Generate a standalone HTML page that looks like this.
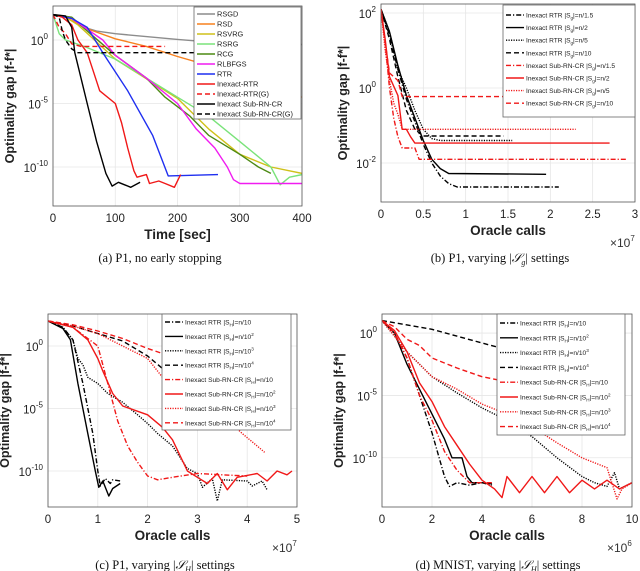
<!DOCTYPE html>
<html><head><meta charset="utf-8">
<style>
html,body{margin:0;padding:0;background:#fff;}
svg{display:block;font-family:"Liberation Sans",sans-serif;}
.cap{font-family:"Liberation Serif",serif;font-size:12.5px;fill:#111;}
</style></head>
<body>
<svg id="fig" width="640" height="571" viewBox="0 0 640 571" xmlns="http://www.w3.org/2000/svg">
<g id="layer"></g>
<text class="cap" x="160" y="262" text-anchor="middle">(a)  P1, no early stopping</text>
<text class="cap" x="500" y="262" text-anchor="middle">(b)  P1, varying |<tspan font-style="italic">𝒮</tspan><tspan font-size="8" dy="3" font-style="italic">g</tspan><tspan dy="-3">| settings</tspan></text>
<text class="cap" x="165" y="569" text-anchor="middle">(c)  P1, varying |<tspan font-style="italic">𝒮</tspan><tspan font-size="8" dy="3" font-style="italic">H</tspan><tspan dy="-3">| settings</tspan></text>
<text class="cap" x="498" y="569" text-anchor="middle">(d)  MNIST, varying |<tspan font-style="italic">𝒮</tspan><tspan font-size="8" dy="3" font-style="italic">H</tspan><tspan dy="-3">| settings</tspan></text>
</svg>
<script>
// ---- Panel (a) data: [time sec, log10 gap]
const aRSGD=[[0,2],[20,1.8],[50,1],[70,0.7],[100,0.5],[200,0.05],[250,-0.15],[300,-0.3],[400,-0.35]];
const aRSD=[[0,2],[20,1.8],[60,0.8],[100,0.1],[150,-0.5],[200,-1.3],[250,-2],[300,-3],[350,-3.7],[400,-4.5]];
const aRSVRG=[[0,2],[20,1.8],[40,1.2],[100,-1.5],[200,-4.6],[250,-7],[300,-9],[350,-10],[400,-10.5]];
const aRSRG=[[0,2],[10,0.5],[20,0],[50,-0.5],[100,-1.5],[150,-3],[200,-4.5],[250,-6],[300,-8],[350,-10],[365,-11.4],[380,-10.8],[400,-10.6]];
const aRCG=[[0,2],[30,1.8],[60,0.5],[100,-1.2],[150,-3],[180,-4.5],[220,-6],[250,-7.5],[300,-9],[330,-10],[350,-10.5]];
const aRLBFGS=[[0,2],[30,1.7],[80,0],[100,-1.2],[150,-3],[200,-5],[230,-7],[260,-8.5],[280,-10],[290,-11],[300,-11.3],[400,-11.3]];
const aRTR=[[0,2],[30,1.7],[55,1],[80,-1],[120,-4],[160,-7.5],[185,-10.7],[265,-10.6]];
const aInRTR=[[0,2],[15,1.8],[30,1.2],[40,0],[55,-1],[65,-2.5],[75,-4],[100,-5],[110,-6.5],[120,-8.5],[130,-10.3],[135,-10.8],[150,-10.6],[155,-11.3],[170,-11.1],[180,-11.3],[195,-11.6],[205,-10.6]];
const aInRTRG=[[0,2],[10,1],[20,0.5],[30,-0.3],[45,-0.5],[180,-0.5]];
const aSub=[[0,2],[20,1.9],[30,1],[35,-1],[45,-3],[55,-5],[70,-8],[85,-10.5],[95,-11.5],[105,-11.2],[115,-11.4],[125,-11.6],[140,-11.2]];
const aSubG=[[0,2],[10,1.8],[15,0.7],[20,0],[30,-0.7],[40,-1],[230,-1]];
const aXTicks=[0,100,200,300,400];
const aYTicks=[0,-5,-10];
// ---- Panel (b) data: [oracle calls x1e7, log10 gap]
const bRTR15=[[0,2.1],[0.1,1.4],[0.2,0.5],[0.3,-0.3],[0.4,-0.9],[0.5,-1.5],[0.6,-2],[0.7,-2.35],[0.8,-2.55],[0.9,-2.64],[2.1,-2.64]];
const bRTR2=[[0,2.1],[0.1,1.5],[0.2,0.6],[0.3,-0.2],[0.4,-0.8],[0.5,-1.4],[0.6,-1.9],[0.7,-2.15],[0.8,-2.28],[1.95,-2.3]];
const bRTR5=[[0,2.1],[0.1,1.5],[0.2,0.5],[0.3,0],[0.4,-0.6],[0.5,-1.1],[0.6,-1.35],[0.7,-1.4],[1.55,-1.4]];
const bRTR10=[[0,2.1],[0.1,1.3],[0.2,0.3],[0.3,-0.6],[0.4,-1.1],[0.5,-1.28],[1.45,-1.28]];
const bSub15=[[0,2.1],[0.05,1.2],[0.1,0],[0.15,-0.8],[0.2,-1.3],[0.25,-1.6],[0.4,-1.6],[0.45,-1.9],[2.9,-1.9]];
const bSub2=[[0,2.1],[0.05,1.3],[0.1,0.3],[0.2,-0.2],[0.25,-1.1],[0.3,-1.1],[0.35,-1.3],[0.4,-1.47],[2.7,-1.47]];
const bSub5=[[0,2.1],[0.05,1],[0.1,0.2],[0.15,-0.4],[0.2,-0.7],[0.25,-1.1],[2.3,-1.1]];
const bSub10=[[0,2.1],[0.05,1.2],[0.1,0.4],[0.2,0.2],[0.25,-0.23],[2.8,-0.23]];
const bXTicks=[0,0.5,1,1.5,2,2.5,3];
const bXLabels=["0","0.5","1","1.5","2","2.5","3"];
const bYTicks=[2,0,-2];
// ---- Panel (c) data: [oracle calls x1e7, log10 gap]
const cRTR1=[[0,2],[0.3,1.5],[0.5,0.5],[0.7,-3],[0.9,-7],[1.0,-10],[1.05,-11.2],[1.15,-10.6],[1.25,-11],[1.3,-10.7],[1.45,-10.8]];
const cRTR2=[[0,2],[0.3,1.4],[0.45,0.5],[0.6,-3],[0.8,-7],[0.95,-10],[1.02,-11.3],[1.1,-10.8],[1.22,-12],[1.3,-11.4],[1.45,-11]];
const cRTR3=[[0,2],[0.3,1.5],[0.5,0.5],[0.6,-1],[0.7,-1.5],[0.8,-2.5],[1.0,-3],[1.2,-3.8],[1.5,-4.5],[1.8,-5.5],[2.0,-6.2],[2.2,-7],[2.5,-8],[2.8,-9.8],[3,-10.2],[3.1,-11.3],[3.3,-10.6],[3.4,-12.4],[3.5,-10.7],[4,-10.8],[4.1,-11.2],[4.3,-10.8],[4.4,-11.5]];
const cRTR4=[[0,2],[0.5,1.6],[1,1],[1.5,0.4],[2,-0.8],[2.3,-1.8]];
const cSub1=[[0,2],[0.5,1.5],[1,0],[1.2,-3],[1.4,-6],[1.6,-8],[1.8,-9.3],[2,-10.4],[2.2,-10.7],[2.5,-10.5],[3,-10.2],[3.5,-10.3],[4,-10.4]];
const cSub2=[[0,2],[0.5,1.5],[0.8,0.5],[1.0,-1],[1.1,-2],[1.3,-3.8],[1.5,-4.8],[2,-5.5],[2.3,-6.5],[2.5,-7.5],[2.8,-10],[3.0,-10.5],[3.2,-11],[3.4,-10.2],[3.6,-11.5],[3.8,-10.5],[4.2,-10.2],[4.4,-10.8],[4.6,-10],[4.8,-10.3],[4.9,-10]];
const cSub3=[[0,2],[0.5,1.6],[1,1],[1.5,0],[2,-1],[2.3,-2.5],[2.6,-3.5],[3,-4.5],[3.5,-5.5],[3.9,-7],[4.2,-8],[4.35,-8.5]];
const cSub4=[[0,2],[0.5,1.7],[1,1.2],[1.5,0.6],[2,-0.2],[2.3,-0.6]];
const cXTicks=[0,1,2,3,4,5];
const cYTicks=[0,-5,-10];
// ---- Panel (d) data: [oracle calls x1e6, log10 gap]
const dRTR1=[[0,1],[0.5,0],[1,-2],[1.5,-5],[2,-8],[2.5,-11.5],[2.7,-12.3],[3,-12],[3.5,-12.2],[4,-12],[4.4,-12.2]];
const dRTR2=[[0,1],[0.5,0],[1,-2.5],[1.5,-4.5],[2,-6.5],[2.5,-8.5],[2.8,-10],[3.2,-10],[3.4,-11.5],[3.6,-12],[4,-12],[4.4,-12.1]];
const dRTR3=[[0,1],[1,-1.5],[2,-3.5],[3,-4.8],[4,-6],[5,-7],[6,-8.3],[7,-10],[8,-11.5],[8.5,-12],[9,-12.3],[9.3,-11.2],[9.5,-12.5],[10,-12]];
const dRTR4=[[0,1],[2,0.3],[4,-0.8],[5.5,-1.6],[6.5,-2.5]];
const dSub1=[[0,1],[0.5,0],[1,-2],[1.5,-5],[2,-7],[2.5,-9.5],[3,-11],[3.5,-12],[4,-12],[4.4,-12]];
const dSub2=[[0,1],[0.5,0.2],[1,-1.5],[1.5,-4],[2,-5.5],[2.5,-7.5],[3,-9],[3.5,-10.5],[4,-11.8],[4.5,-12.5],[4.8,-13.2],[5,-11.5],[5.5,-12.8],[6,-11.5],[6.5,-12.8],[7,-11.5],[7.5,-12.8],[8,-11.8],[8.5,-12.5],[9,-11.8],[9.5,-12.5],[10,-12]];
const dSub3=[[0,1],[1,-1.5],[2,-3.5],[3,-4.5],[4,-5.7],[5,-6.5],[6,-7.5],[7,-8.8],[8,-10],[9,-10.8],[9.4,-13.3],[9.6,-12.5],[10,-12]];
const dSub4=[[0,1],[0.5,0.5],[1,-0.5],[1.5,-1],[2,-2],[3,-2.8],[4,-3.5],[5,-3.9]];
const dXTicks=[0,2,4,6,8,10];
const dYTicks=[0,-5,-10];

const NS="http://www.w3.org/2000/svg";
const layer=document.getElementById('layer');
function mk(tag,attrs,parent){const e=document.createElementNS(NS,tag);for(const k in attrs)e.setAttribute(k,attrs[k]);(parent||layer).appendChild(e);return e;}
const DASH={solid:"",dash:"5,3",dot:"1.2,1.3",dashdot:"5,2,1.2,2"};

function panel(p){
  const g=mk('g',{});
  
  
  const sx=v=>p.L+(v-p.xmin)/(p.xmax-p.xmin)*(p.R-p.L);
  const sy=l=>p.T+(p.lt-l)/(p.lt-p.lb)*(p.B-p.T);
  const clip=mk('clipPath',{id:'clip'+p.id},g);
  mk('rect',{x:p.L,y:p.T,width:p.R-p.L,height:p.B-p.T},clip);
  p.xt.forEach((v,i)=>{
    const gl=mk('line',{x1:sx(v),x2:sx(v),y1:p.T,y2:p.B,stroke:'#e6e6e6','stroke-width':0.8},g);
    
    
    const t=mk('text',{x:sx(v),y:p.B+16,'font-size':11.5,'text-anchor':'middle',fill:'#222'},g);
    t.textContent=p.xl?p.xl[i]:String(v);
    
    
  });
  p.yt.forEach(v=>{
    const gl=mk('line',{x1:p.L,x2:p.R,y1:sy(v),y2:sy(v),stroke:'#e6e6e6','stroke-width':0.8},g);
    
    
    const t=mk('text',{x:p.L-5,y:sy(v)+5,'font-size':11.5,'text-anchor':'end',fill:'#222'},g);
    
    
    const sp=mk('tspan',{},t);sp.textContent='10';
    const sp2=mk('tspan',{dy:-6,'font-size':8},t);sp2.textContent=String(v);
  });
  const sg=mk('g',{'clip-path':'url(#clip'+p.id+')'},g);
  p.series.forEach(s=>{
    const d=s.data.map((q,i)=>(i?'L':'M')+sx(q[0]).toFixed(1)+','+sy(q[1]).toFixed(1)).join('');
    const path=mk('path',{d:d,fill:'none',stroke:s.c,'stroke-width':s.w||1.4,'stroke-dasharray':DASH[s.st||'solid'],'stroke-linejoin':'round'},sg);
    
    
  });
  const box=mk('rect',{x:p.L,y:p.T,width:p.R-p.L,height:p.B-p.T,fill:'none',stroke:'#555','stroke-width':0.8},g);
  
  
  const xt=mk('text',{x:(p.L+p.R)/2,y:p.B+33,'font-size':13.5,'font-weight':'bold','text-anchor':'middle',fill:'#222'},g);
  xt.textContent=p.xtitle;
  
  
  const ytx=p.yx, yty=(p.T+p.B)/2;
  const yt=mk('text',{x:ytx,y:yty,'font-size':12.5,'font-weight':'bold','text-anchor':'middle',fill:'#222',transform:'rotate(-90 '+ytx+' '+yty+')'},g);
  yt.textContent='Optimality gap |f-f*|';
  
  
  if(p.mult){
    const m=mk('text',{x:p.R-25,y:p.B+45,'font-size':12,fill:'#333'},g);
    
    
    const a=mk('tspan',{},m);a.textContent='×10';
    const b=mk('tspan',{dy:-6,'font-size':8},m);b.textContent=p.mult;
  }
  const lg=p.leg;
  const lgg=mk('g',{},g);
  
  
  mk('rect',{x:lg.x,y:lg.y,width:lg.w,height:lg.h,fill:'#fff',stroke:'#666','stroke-width':0.8},lgg);
  p.series.forEach((s,i)=>{
    const yy=lg.y+lg.y0+i*lg.dy;
    const ln=mk('line',{x1:lg.x+3,x2:lg.x+3+lg.ll,y1:yy,y2:yy,stroke:s.c,'stroke-width':s.w||1.4,'stroke-dasharray':DASH[s.st||'solid']},lgg);
    
    
    const t=mk('text',{x:lg.x+5+lg.ll,y:yy+2.5,'font-size':lg.fs,fill:'#222'},lgg);
    
    
    const parts=s.label;
    if(typeof parts==='string'){t.textContent=parts;}
    else{
      const a=mk('tspan',{},t);a.textContent=parts[0];
      const b=mk('tspan',{dy:2,'font-size':lg.fs*0.7},t);b.textContent=parts[1];
      const c=mk('tspan',{dy:-2},t);c.textContent=parts[2];
      if(parts[3]){const e=mk('tspan',{dy:-3,'font-size':lg.fs*0.7},t);e.textContent=parts[3];}
    }
  });
}

panel({id:'a',L:53,R:302,T:6,B:206,xmin:0,xmax:400,lt:2.68,lb:-13.07,xt:aXTicks,yt:aYTicks,xtitle:'Time [sec]',yx:14,
 leg:{x:194,y:7,w:107,h:112,y0:7,dy:10,ll:18,fs:7.4},
 series:[
  {key:'rsgd',data:aRSGD,c:'#8c8c8c',label:'RSGD'},
  {key:'rsd',data:aRSD,c:'#f7801e',label:'RSD'},
  {key:'rsvrg',data:aRSVRG,c:'#cfc11a',label:'RSVRG'},
  {key:'rsrg',data:aRSRG,c:'#7ae37a',label:'RSRG'},
  {key:'rcg',data:aRCG,c:'#4d8a14',label:'RCG'},
  {key:'rlbfgs',data:aRLBFGS,c:'#f01cf0',label:'RLBFGS'},
  {key:'rtr',data:aRTR,c:'#1f2ff0',label:'RTR'},
  {key:'inexact-rtr',data:aInRTR,c:'#f01818',label:'Inexact-RTR'},
  {key:'inexact-rtr-g',data:aInRTRG,c:'#f01818',st:'dash',label:'Inexact-RTR(G)'},
  {key:'sub-rn-cr',data:aSub,c:'#000',label:'Inexact Sub-RN-CR'},
  {key:'sub-rn-cr-g',data:aSubG,c:'#000',st:'dash',label:'Inexact Sub-RN-CR(G)'}
 ]});

panel({id:'b',L:381,R:635,T:4,B:202,xmin:0,xmax:3,lt:2.24,lb:-3.04,xt:bXTicks,xl:bXLabels,yt:bYTicks,xtitle:'Oracle calls',yx:347,mult:'7',
 leg:{x:503,y:5,w:132,h:112,y0:10,dy:12.6,ll:18,fs:6.6},
 series:[
  {key:'rtr-g-1.5',data:bRTR15,c:'#000',st:'dashdot',label:['Inexact RTR |S','g','|=n/1.5']},
  {key:'rtr-g-2',data:bRTR2,c:'#000',label:['Inexact RTR |S','g','|=n/2']},
  {key:'rtr-g-5',data:bRTR5,c:'#000',st:'dot',label:['Inexact RTR |S','g','|=n/5']},
  {key:'rtr-g-10',data:bRTR10,c:'#000',st:'dash',label:['Inexact RTR |S','g','|=n/10']},
  {key:'sub-g-1.5',data:bSub15,c:'#f01818',st:'dashdot',label:['Inexact Sub-RN-CR  |S','g','|=n/1.5']},
  {key:'sub-g-2',data:bSub2,c:'#f01818',label:['Inexact Sub-RN-CR  |S','g','|=n/2']},
  {key:'sub-g-5',data:bSub5,c:'#f01818',st:'dot',label:['Inexact Sub-RN-CR  |S','g','|=n/5']},
  {key:'sub-g-10',data:bSub10,c:'#f01818',st:'dash',label:['Inexact Sub-RN-CR  |S','g','|=n/10']}
 ]});

panel({id:'c',L:48,R:297,T:314,B:507,xmin:0,xmax:5,lt:2.56,lb:-12.88,xt:cXTicks,yt:cYTicks,xtitle:'Oracle calls',yx:9,mult:'7',
 leg:{x:162,y:314,w:129,h:116,y0:8,dy:14.4,ll:18,fs:6.6},
 series:[
  {key:'rtr-h-10',data:cRTR1,c:'#000',st:'dashdot',label:['Inexact RTR |S','H','|=n/10']},
  {key:'rtr-h-100',data:cRTR2,c:'#000',label:['Inexact RTR |S','H','|=n/10','2']},
  {key:'rtr-h-1000',data:cRTR3,c:'#000',st:'dot',label:['Inexact RTR |S','H','|=n/10','3']},
  {key:'rtr-h-10000',data:cRTR4,c:'#000',st:'dash',label:['Inexact RTR |S','H','|=n/10','4']},
  {key:'sub-h-10',data:cSub1,c:'#f01818',st:'dashdot',label:['Inexact Sub-RN-CR |S','H','|=n/10']},
  {key:'sub-h-100',data:cSub2,c:'#f01818',label:['Inexact Sub-RN-CR |S','H','|=n/10','2']},
  {key:'sub-h-1000',data:cSub3,c:'#f01818',st:'dot',label:['Inexact Sub-RN-CR |S','H','|=n/10','3']},
  {key:'sub-h-10000',data:cSub4,c:'#f01818',st:'dash',label:['Inexact Sub-RN-CR |S','H','|=n/10','4']}
 ]});

panel({id:'d',L:382,R:632,T:314,B:507,xmin:0,xmax:10,lt:1.53,lb:-13.95,xt:dXTicks,yt:dYTicks,xtitle:'Oracle calls',yx:343,mult:'6',
 leg:{x:497,y:314,w:128,h:121,y0:9,dy:14.8,ll:18,fs:6.6},
 series:[
  {key:'rtr-h-10',data:dRTR1,c:'#000',st:'dashdot',label:['Inexact RTR |S','H','|=n/10']},
  {key:'rtr-h-100',data:dRTR2,c:'#000',label:['Inexact RTR |S','H','|=n/10','2']},
  {key:'rtr-h-1000',data:dRTR3,c:'#000',st:'dot',label:['Inexact RTR |S','H','|=n/10','3']},
  {key:'rtr-h-10000',data:dRTR4,c:'#000',st:'dash',label:['Inexact RTR |S','H','|=n/10','4']},
  {key:'sub-h-10',data:dSub1,c:'#f01818',st:'dashdot',label:['Inexact Sub-RN-CR |S','H','|=n/10']},
  {key:'sub-h-100',data:dSub2,c:'#f01818',label:['Inexact Sub-RN-CR |S','H','|=n/10','2']},
  {key:'sub-h-1000',data:dSub3,c:'#f01818',st:'dot',label:['Inexact Sub-RN-CR |S','H','|=n/10','3']},
  {key:'sub-h-10000',data:dSub4,c:'#f01818',st:'dash',label:['Inexact Sub-RN-CR |S','H','|=n/10','4']}
 ]});
</script>
</body></html>
